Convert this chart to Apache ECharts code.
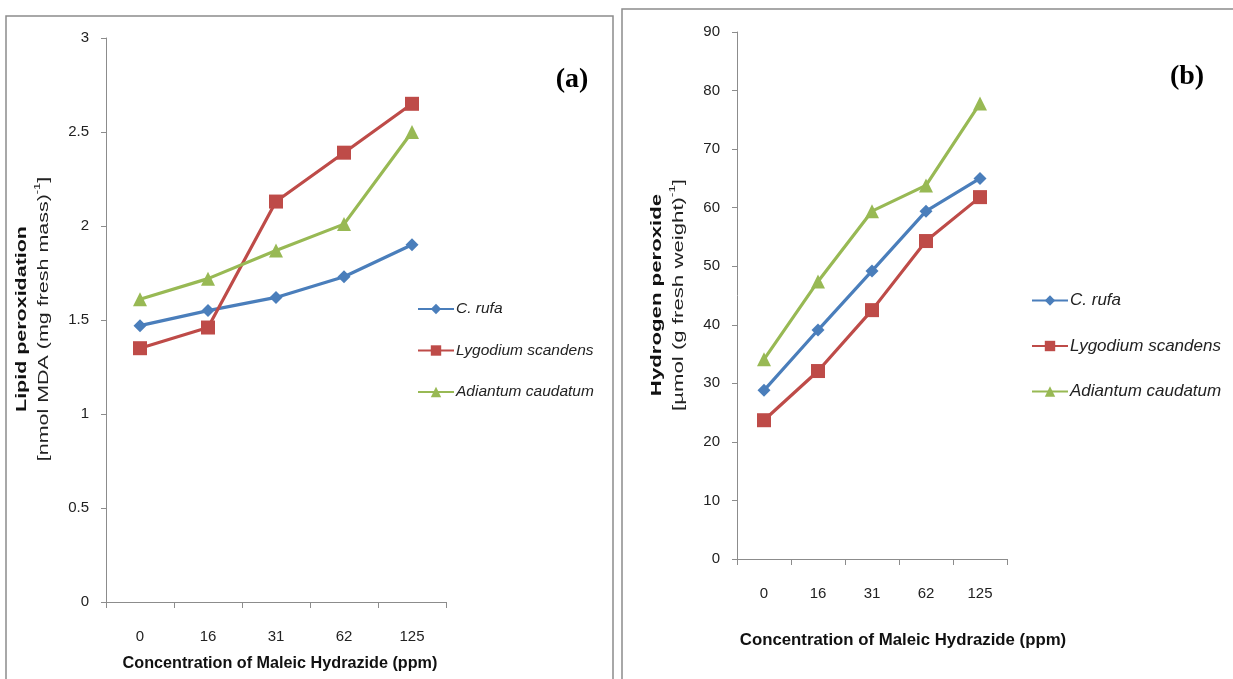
<!DOCTYPE html>
<html><head><meta charset="utf-8">
<script src="https://cdn.jsdelivr.net/npm/echarts@6/dist/echarts.min.js"></script>
<style>html,body{margin:0;padding:0;background:#fff}#c{width:1233px;height:679px}</style>
</head><body><div id="c"></div>
<script>
const categories = ['0','16','31','62','125'];
const seriesNames = ['C. rufa','Lygodium scandens','Adiantum caudatum'];
// Panel (a): Lipid peroxidation
const lipidRufa = [1.47, 1.55, 1.62, 1.73, 1.90];
const lipidLygodium = [1.35, 1.46, 2.13, 2.39, 2.65];
const lipidAdiantum = [1.61, 1.72, 1.87, 2.01, 2.50];
// Panel (b): Hydrogen peroxide
const h2o2Rufa = [28.8, 39.1, 49.2, 59.4, 65.0];
const h2o2Lygodium = [23.7, 32.1, 42.5, 54.3, 61.8];
const h2o2Adiantum = [34.1, 47.4, 59.4, 63.8, 77.8];

const colors = ['#4a7ebb','#be4b48','#98b954'];
const symbols = ['diamond','rect','triangle'];
const symSizes = [13, 14, 14];
const FONT = '"Liberation Sans", "DejaVu Sans", sans-serif';

const chart = echarts.init(document.getElementById('c'), null, {renderer:'canvas'});

function mkSeries(idx, datas){
  return datas.map((d,i)=>({
    name: seriesNames[i], type:'line', xAxisIndex: idx, yAxisIndex: idx,
    data: d, symbol: symbols[i], symbolSize: symSizes[i],
    lineStyle:{color: colors[i], width: 3.2},
    itemStyle:{color: colors[i]},
    emphasis:{disabled:true}, animation:false, z: 3
  }));
}
const axisLineStyle = {lineStyle:{color:'#8c8c8c', width:1}};
function xAx(idx){
  return {type:'category', gridIndex: idx, data: categories, boundaryGap: true,
    axisLine: Object.assign({show:true}, axisLineStyle),
    axisTick:{show:true, length:6, lineStyle:{color:'#8c8c8c'}},
    axisLabel:{color:'#222', fontSize:15, fontFamily: FONT, margin: 27},
    splitLine:{show:false}};
}
function yAx(idx, max, interval, margin){
  return {type:'value', gridIndex: idx, min:0, max:max, interval:interval,
    axisLine: Object.assign({show:true}, axisLineStyle),
    axisTick:{show:true, length:5, lineStyle:{color:'#8c8c8c'}},
    axisLabel:{color:'#222', fontSize:15, fontFamily: FONT, margin: margin},
    splitLine:{show:false}};
}
function legend(left, top, gap, fs){
  return {orient:'vertical', left:left, top:top, itemGap:gap, itemWidth:36, itemHeight:13,
    data: seriesNames, selectedMode:false,
    textStyle:{fontStyle:'italic', fontSize:fs, color:'#222', fontFamily: FONT, padding:[0,0,0,-3]}};
}
const rich = {
  b:{fontWeight:'bold', fontSize:15, fontFamily:FONT, fill:'#111', lineHeight:22},
  r:{fontSize:15, fontFamily:FONT, fill:'#222', lineHeight:22},
  s:{fontSize:9, fontFamily:FONT, fill:'#222', verticalAlign:'top', lineHeight:22}
};

chart.setOption({
  animation:false,
  grid:[
    {left:106, top:38, width:340, height:564},
    {left:737, top:32, width:270, height:527}
  ],
  xAxis:[xAx(0), xAx(1)],
  yAxis:[yAx(0, 3, 0.5, 17), yAx(1, 90, 10, 17)],
  legend:[legend(412, 296, 25.5, 15.5), legend(1026, 287, 28.5, 17)],
  series: [].concat(mkSeries(0,[lipidRufa, lipidLygodium, lipidAdiantum]),
                    mkSeries(1,[h2o2Rufa, h2o2Lygodium, h2o2Adiantum])),
  graphic:[
    {type:'rect', shape:{x:6, y:16, width:607, height:700}, style:{fill:'none', stroke:'#8c8c8c', lineWidth:1.5}, z:0},
    {type:'rect', shape:{x:622, y:9, width:640, height:700}, style:{fill:'none', stroke:'#8c8c8c', lineWidth:1.5}, z:0},
    {type:'text', x:572, y:80, z:10, style:{text:'(a)', font:'bold 28px "Liberation Serif", serif', fill:'#000', align:'center', verticalAlign:'middle'}},
    {type:'text', x:1187, y:77, z:10, style:{text:'(b)', font:'bold 28px "Liberation Serif", serif', fill:'#000', align:'center', verticalAlign:'middle'}},
    {type:'text', x:280, y:664, z:10, style:{text:'Concentration of Maleic Hydrazide (ppm)', font:'bold 16.2px '+FONT, fill:'#111', align:'center', verticalAlign:'middle'}},
    {type:'text', x:903, y:640, z:10, style:{text:'Concentration of Maleic Hydrazide (ppm)', font:'bold 16.8px '+FONT, fill:'#111', align:'center', verticalAlign:'middle'}},
    {type:'text', x:33, y:319, rotation: Math.PI/2, scaleX:1.43, z:10,
      style:{text:'{b|Lipid peroxidation}\n{r|[nmol MDA (mg fresh mass)}{s|-1}{r|]}', rich:rich, align:'center', verticalAlign:'middle'}},
    {type:'text', x:668, y:295, rotation: Math.PI/2, scaleX:1.48, z:10,
      style:{text:'{b|Hydrogen peroxide}\n{r|[µmol (g fresh weight)}{s|-1}{r|]}', rich:rich, align:'center', verticalAlign:'middle'}}
  ]
});
</script></body></html>
